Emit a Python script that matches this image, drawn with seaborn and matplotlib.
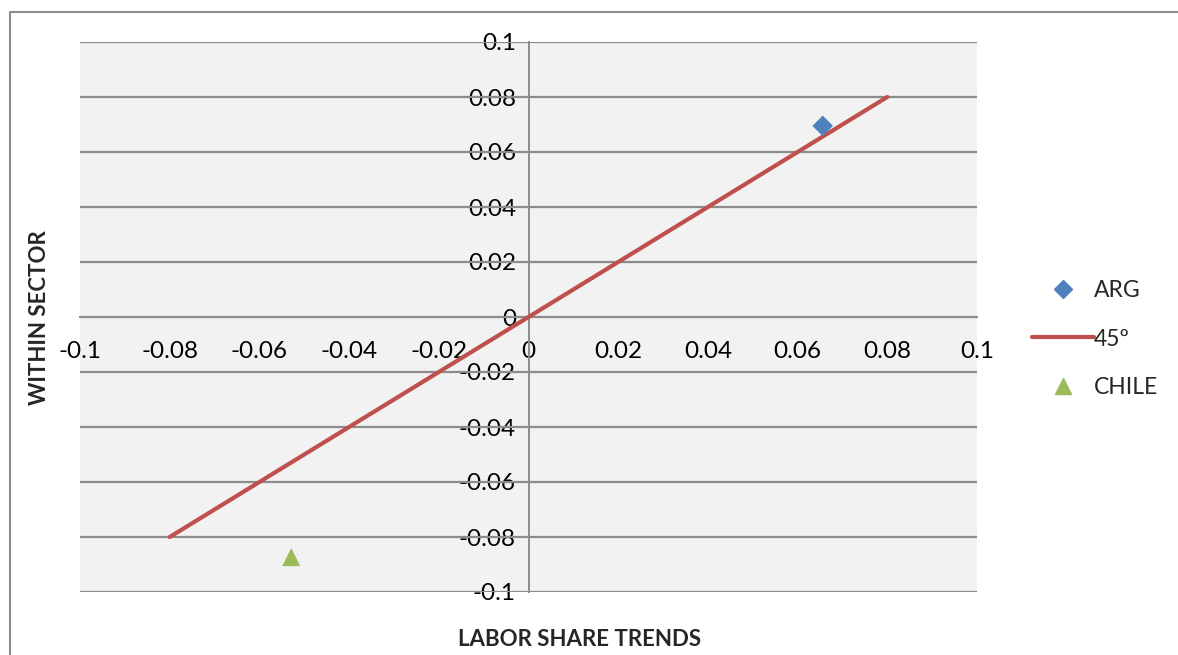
import matplotlib
matplotlib.use("Agg")
import matplotlib.pyplot as plt
from matplotlib.lines import Line2D
import seaborn as sns
import pandas as pd

# Series values
arg_x = [0.0656]
arg_y = [0.0695]
chile_x = [-0.0529]
chile_y = [-0.0873]
ref_x = [-0.08, 0.08]
ref_y = [-0.08, 0.08]

# Tick values and labels
x_ticks = [-0.1, -0.08, -0.06, -0.04, -0.02, 0, 0.02, 0.04, 0.06, 0.08, 0.1]
x_labels = ["-0.1", "-0.08", "-0.06", "-0.04", "-0.02", "0", "0.02", "0.04", "0.06", "0.08", "0.1"]
y_ticks = [-0.1, -0.08, -0.06, -0.04, -0.02, 0, 0.02, 0.04, 0.06, 0.08, 0.1]
y_labels = ["-0.1", "-0.08", "-0.06", "-0.04", "-0.02", "0", "0.02", "0.04", "0.06", "0.08", "0.1"]

sns.set_style("white")
plt.rcParams["font.family"] = ["Lato", "DejaVu Sans"]

W, H = 1178, 655
fig = plt.figure(figsize=(W / 100, H / 100), dpi=100)
ax = fig.add_axes([80 / W, 1 - 592 / H, (977 - 80) / W, (592 - 42) / H])
ax.set_facecolor("#F2F2F2")

BLUE = "#4F81BD"
RED = "#C0504D"
GREEN = "#9BBB59"
GRID = "#8C8C8C"

ref_df = pd.DataFrame({"x": ref_x, "y": ref_y})
arg_df = pd.DataFrame({"x": arg_x, "y": arg_y})
chile_df = pd.DataFrame({"x": chile_x, "y": chile_y})

sns.lineplot(data=ref_df, x="x", y="y", ax=ax, color=RED, linewidth=3.0,
             sort=False, zorder=3, solid_capstyle="round")
sns.scatterplot(data=arg_df, x="x", y="y", ax=ax, marker="D", s=110,
                color=BLUE, edgecolor="none", zorder=4)
sns.scatterplot(data=chile_df, x="x", y="y", ax=ax, marker="^", s=170,
                color=GREEN, edgecolor="none", zorder=4)

ax.set_xlim(-0.1, 0.1)
ax.set_ylim(-0.1, 0.1)

# horizontal gridlines only
for v in y_ticks:
    ax.axhline(v, color=GRID, linewidth=1.6, zorder=1)

# axes crossing at the origin
for side in ["top", "right"]:
    ax.spines[side].set_visible(False)
ax.spines["left"].set_position(("data", 0))
ax.spines["bottom"].set_position(("data", 0))
for side in ["left", "bottom"]:
    ax.spines[side].set_color(GRID)
    ax.spines[side].set_linewidth(1.4)
    ax.spines[side].set_zorder(2)

ax.set_xticks(x_ticks)
ax.set_xticklabels(x_labels)
ax.set_yticks(y_ticks)
ax.set_yticklabels(y_labels)
ax.tick_params(axis="x", length=0, pad=17, labelsize=17.5, colors="black")
ax.tick_params(axis="y", length=0, pad=9, labelsize=17.5, colors="black")

ax.set_xlabel("")
ax.set_ylabel("")
fig.text(580 / W, 1 - 639 / H, "LABOR SHARE TRENDS", ha="center", va="center",
         fontsize=16, fontweight="bold")
fig.text(40 / W, 1 - 318 / H, "WITHIN SECTOR", ha="center", va="center",
         rotation=90, fontsize=16, fontweight="bold")

handles = [
    Line2D([], [], marker="D", color=BLUE, linestyle="none", markersize=9),
    Line2D([], [], color=RED, linewidth=3.0, solid_capstyle="round"),
    Line2D([], [], marker="^", color=GREEN, linestyle="none", markersize=12),
]
fig.legend(handles, ["ARG", "45º", "CHILE"], loc="center left",
           bbox_to_anchor=(1011 / W, 1 - 339 / H), frameon=False,
           fontsize=16.5, handlelength=2.7, handletextpad=0.0, labelspacing=1.2)

# chart border (top and left edges)
fig.add_artist(Line2D([9.5 / W, 1.0], [1 - 12 / H, 1 - 12 / H],
                      transform=fig.transFigure, color="#8C8C8C", linewidth=1.5))
fig.add_artist(Line2D([9.5 / W, 9.5 / W], [1 - 12 / H, 0.0],
                      transform=fig.transFigure, color="#8C8C8C", linewidth=1.5))

fig.savefig("out.png", dpi=100, facecolor="white")
